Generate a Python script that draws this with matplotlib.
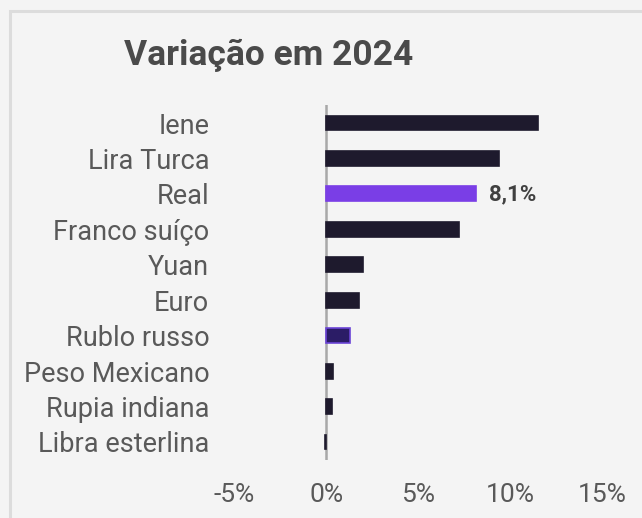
import matplotlib
matplotlib.use("Agg")
import matplotlib.pyplot as plt
from matplotlib.patches import Rectangle

categories = ["Iene", "Lira Turca", "Real", "Franco suíço", "Yuan", "Euro",
              "Rublo russo", "Peso Mexicano", "Rupia indiana", "Libra esterlina"]
values = [11.5, 9.35, 8.1, 7.2, 2.0, 1.75, 1.3, 0.35, 0.28, -0.1]
highlight_label = "8,1%"
xticks = [-5, 0, 5, 10, 15]
xticklabels = ["-5%", "0%", "5%", "10%", "15%"]

DARK = "#1e1a2d"
PURPLE = "#7a3ee6"
bar_colors = [DARK, DARK, PURPLE, DARK, DARK, DARK, "#2b1c66", DARK, DARK, DARK]
edge_colors = [DARK, DARK, PURPLE, DARK, DARK, DARK, "#6b44d6", DARK, DARK, DARK]

plt.rcParams['font.family'] = ['Roboto', 'DejaVu Sans']
BG = "#f4f4f4"
TXT = "#595959"

fig = plt.figure(figsize=(6.42, 5.18), dpi=100, facecolor=BG)

# frame
fig.patches.append(Rectangle((10 / 642, -0.1), 1.2, 1 - 11 / 518 + 0.1,
                             transform=fig.transFigure, fill=False,
                             edgecolor="#dcdcdc", linewidth=2.2, zorder=0))

ax = fig.add_axes([216.1 / 642, 1 - 459.7 / 518, 404.8 / 642, 354.4 / 518])
ax.set_facecolor("none")
y = list(range(len(categories)))
ax.barh(y, values, height=0.42, color=bar_colors, edgecolor=edge_colors,
        linewidth=1.2, zorder=3)
ax.set_xlim(-6, 16)
ax.set_ylim(len(categories) - 0.5, -0.5)
ax.axvline(0, color="#a8a8a8", linewidth=1.8, zorder=2)

ax.set_yticks(y)
ax.set_yticklabels(categories, fontsize=19.5, color=TXT)
ax.set_xticks(xticks)
ax.set_xticklabels(xticklabels, fontsize=19, color=TXT)
ax.tick_params(axis="y", length=0, pad=5)
ax.tick_params(axis="x", length=0, pad=17)
for s in ax.spines.values():
    s.set_visible(False)

ax.text(values[2] + 0.75, 2, highlight_label, fontsize=16, fontweight="bold",
        color="#404040", va="center", ha="left")

fig.text(268.5 / 642, 1 - 55 / 518, "Variação em 2024", fontsize=25.5,
         fontweight="bold", color="#4a4a4a", ha="center", va="center")

fig.savefig("out.png", dpi=100, facecolor=BG)
